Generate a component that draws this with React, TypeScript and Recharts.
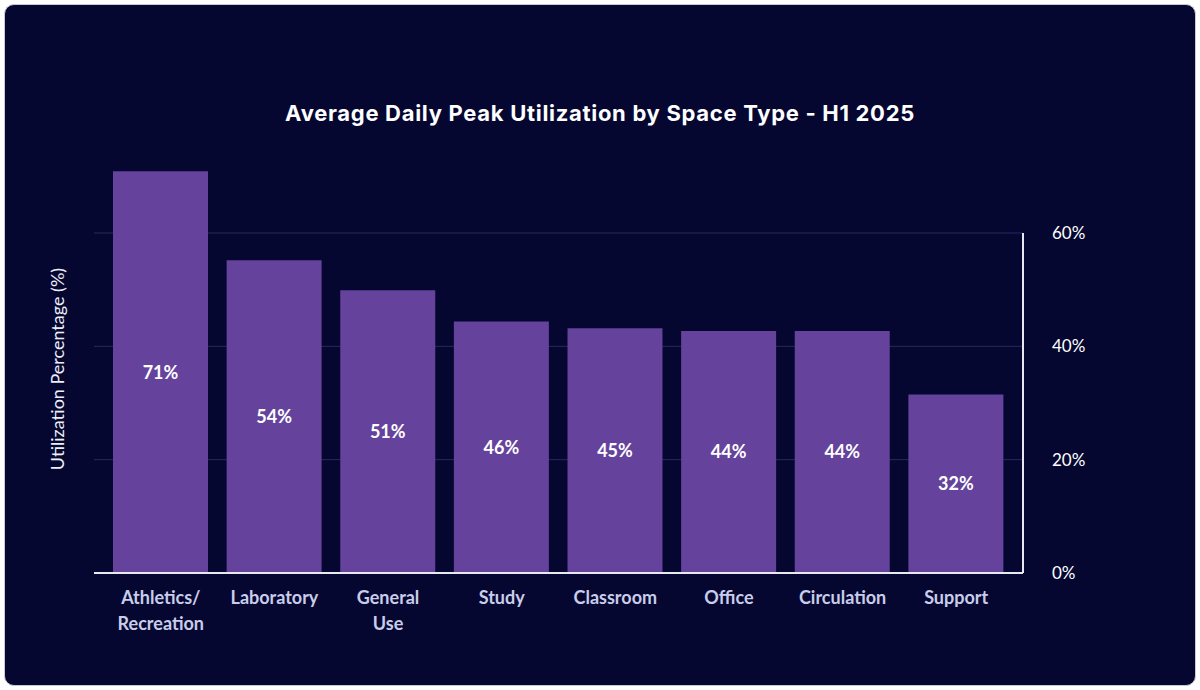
import { CSSProperties } from 'react';
import {
  BarChart,
  Bar,
  XAxis,
  YAxis,
  CartesianGrid,
  LabelList,
  ReferenceLine,
} from 'recharts';

// space types, one line per array entry of the tick label
const categories = [
  'Athletics/\nRecreation',
  'Laboratory',
  'General\nUse',
  'Study',
  'Classroom',
  'Office',
  'Circulation',
  'Support',
];

// bar heights (percent)
const utilization = [70.9, 55.2, 49.9, 44.4, 43.2, 42.7, 42.7, 31.5];

// value labels printed inside the bars
const barLabels = ['71%', '54%', '51%', '46%', '45%', '44%', '44%', '32%'];

const yTicks = [0, 20, 40, 60];

const data = categories.map((name, i) => ({
  name,
  value: utilization[i],
  label: barLabels[i],
}));

const FONT = 'Lato, "Open Sans", sans-serif';
const BG = '#050731';
const BAR = '#65439c';

function CategoryTick(props: any) {
  const { x, y, payload } = props;
  const lines = String(payload.value).split('\n');
  return (
    <g transform={`translate(${x},${y})`}>
      {lines.map((line, i) => (
        <text
          key={i}
          x={0}
          y={31 + i * 26}
          textAnchor="middle"
          fill="#c9cdea"
          fontSize={18}
          fontWeight={700}
          fontFamily={FONT}
        >
          {line}
        </text>
      ))}
    </g>
  );
}

function PercentTick(props: any) {
  const { x, y, payload } = props;
  return (
    <text
      x={x + 21}
      y={y}
      dy={6}
      textAnchor="start"
      fill="#ffffff"
      fontSize={17}
      fontFamily={FONT}
    >
      {`${payload.value}%`}
    </text>
  );
}

export default function App() {
  const pageStyle: CSSProperties = {
    position: 'absolute',
    top: 0,
    left: 0,
    width: 1200,
    height: 690,
    background: '#ffffff',
  };

  const cardStyle: CSSProperties = {
    position: 'absolute',
    top: 4,
    left: 4,
    width: 1190,
    height: 680,
    background: BG,
    borderRadius: 10,
    border: '1px solid #c9cad3',
    overflow: 'hidden',
  };

  const titleStyle: CSSProperties = {
    position: 'absolute',
    top: 94,
    left: 0,
    width: 1190,
    textAlign: 'center',
    color: '#ffffff',
    fontFamily: 'Inter, sans-serif',
    fontWeight: 700,
    fontSize: 22,
    lineHeight: '28px',
    letterSpacing: '0.7px',
  };

  return (
    <div style={pageStyle}>
      <div style={cardStyle}>
        <div style={titleStyle}>Average Daily Peak Utilization by Space Type - H1 2025</div>
        <BarChart
          width={1190}
          height={680}
          data={data}
          margin={{ top: 160, right: 92, bottom: 52, left: 0 }}
        >
          <CartesianGrid
            vertical={false}
            stroke="#272a5c"
            xAxisId="cat"
            yAxisId="pct"
            syncWithTicks
          />
          <XAxis
            xAxisId="cat"
            dataKey="name"
            height={60}
            padding={{ left: 10, right: 10 }}
            tickLine={false}
            tickSize={0}
            tickMargin={0}
            interval={0}
            axisLine={{ stroke: '#e8e8f0', strokeWidth: 2 }}
            tick={<CategoryTick />}
          />
          <XAxis
            xAxisId="edge"
            dataKey="edgeUnused"
            type="number"
            domain={[0, 1]}
            allowDataOverflow
            hide
          />
          <YAxis
            yAxisId="label"
            orientation="left"
            width={89}
            domain={[0, 72]}
            tick={false}
            axisLine={false}
            tickLine={false}
            label={{
              value: 'Utilization Percentage (%)',
              angle: -90,
              position: 'center',
              dx: 8,
              fill: '#eceef8',
              fontSize: 18,
              fontFamily: FONT,
            }}
          />
          <YAxis
            yAxisId="pct"
            orientation="right"
            width={80}
            domain={[0, 72]}
            ticks={yTicks}
            axisLine={false}
            tickLine={false}
            tick={<PercentTick />}
          />
          <ReferenceLine
            xAxisId="edge"
            yAxisId="pct"
            segment={[{ x: 1, y: 0 }, { x: 1, y: 60 }]}
            stroke="#e8e8f0"
            strokeWidth={2}
            ifOverflow="visible"
          />
          <Bar
            xAxisId="cat"
            yAxisId="pct"
            dataKey="value"
            fill={BAR}
            barSize={95}
            isAnimationActive={false}
          >
            <LabelList
              dataKey="label"
              position="center"
              fill="#ffffff"
              fontSize={18}
              fontWeight={700}
              fontFamily={FONT}
            />
          </Bar>
        </BarChart>
      </div>
    </div>
  );
}
